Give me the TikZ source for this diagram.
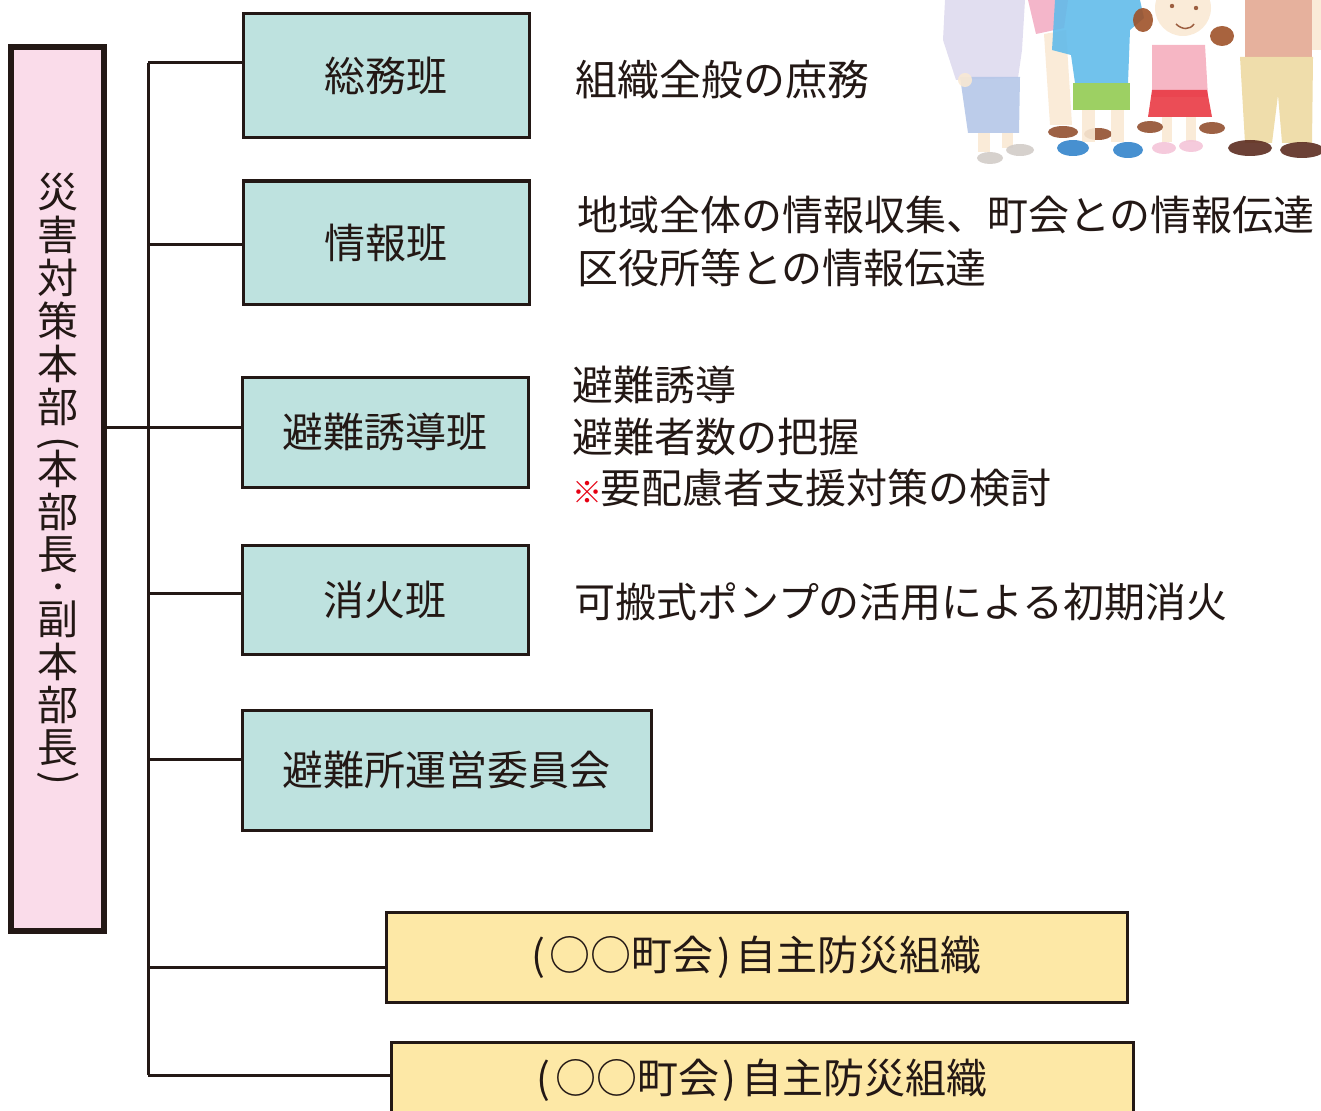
\documentclass[tikz,border=0pt]{standalone}
\usepackage{fontspec}
\setmainfont{Noto Sans CJK JP}
\definecolor{ink}{HTML}{231815}
\definecolor{tealfill}{HTML}{BEE2DF}
\definecolor{pinkfill}{HTML}{FADCEA}
\definecolor{yellowfill}{HTML}{FDE8A6}
\definecolor{noteRed}{HTML}{E60012}
% illustration colours
\definecolor{lavender}{HTML}{DEDAEE}
\definecolor{greyblue}{HTML}{B5C7E8}
\definecolor{skin}{HTML}{F9E9D4}
\definecolor{sandal}{HTML}{D2CCC8}
\definecolor{rosy}{HTML}{F3AEC4}
\definecolor{shirtblue}{HTML}{62BBEA}
\definecolor{shortsgreen}{HTML}{92CB52}
\definecolor{shoeblue}{HTML}{3384CB}
\definecolor{toppink}{HTML}{F5AEBE}
\definecolor{skirtred}{HTML}{E93A44}
\definecolor{shoepink}{HTML}{F4C4D8}
\definecolor{brownshoe}{HTML}{925030}
\definecolor{salmon}{HTML}{E3A892}
\definecolor{khaki}{HTML}{EDD9A2}
\definecolor{darkshoe}{HTML}{5C2C20}
\definecolor{hair}{HTML}{9E5229}
\begin{document}
\begin{tikzpicture}[x=1pt,y=-1pt,
  conn/.style={draw=ink, line width=3pt},
  unitbox/.style={draw=ink, line width=3pt, fill=tealfill, inner sep=0pt,
    text=ink, font=\fontsize{41}{48}\selectfont},
  orgbox/.style={draw=ink, line width=3pt, fill=yellowfill, inner sep=0pt,
    text=ink, font=\fontsize{41}{48}\selectfont},
  duty/.style={anchor=west, inner sep=0pt, align=left, text=ink},
  vchar/.style={inner sep=0pt, text=ink, font=\fontsize{41}{48}\selectfont}
]
\useasboundingbox (0,0) rectangle (1321,1110);
\clip (0,0) rectangle (1321,1110);

% ---- family illustration, top right ----
\begin{scope}[opacity=0.9]
  % grandmother
  \fill[lavender] (945,0) -- (1025,0) -- (1022,50) -- (1018,78) -- (956,80) -- (943,40) -- cycle;
  \fill[greyblue] (960,77) -- (1020,77) -- (1019,133) -- (968,133) -- cycle;
  \fill[skin] (965,80) circle (7);
  \fill[skin] (978,133) rectangle (990,152);
  \fill[skin] (1002,133) rectangle (1013,148);
  \fill[sandal] (990,158) ellipse (13 and 6);
  \fill[sandal] (1020,150) ellipse (14 and 6);
  % figure behind
  \fill[rosy] (1028,0) -- (1068,0) -- (1064,28) -- (1036,34) -- cycle;
  \fill[skin] (1044,34) -- (1066,30) -- (1072,125) -- (1050,125) -- cycle;
  \fill[brownshoe] (1063,132) ellipse (15 and 6);
  \fill[brownshoe] (1098,134) ellipse (14 and 6);
  % boy
  \fill[shirtblue] (1055,0) -- (1140,0) -- (1144,18) -- (1130,30) -- (1128,83) -- (1075,83) -- (1071,55) -- (1052,50) -- cycle;
  \fill[shortsgreen] (1073,83) rectangle (1130,110);
  \fill[skin] (1082,110) rectangle (1095,142);
  \fill[skin] (1111,110) rectangle (1124,142);
  \fill[shoeblue] (1073,148) ellipse (16 and 8);
  \fill[shoeblue] (1128,150) ellipse (15 and 8);
  % girl
  \fill[hair] (1143,20) ellipse (10 and 12);
  \fill[hair] (1222,36) ellipse (12 and 10);
  \fill[skin] (1183,8) circle (28);
  \fill[brownshoe] (1172,6) circle (2.2);
  \fill[brownshoe] (1196,8) circle (2.2);
  \draw[brownshoe, line width=1.5pt] (1176,24) .. controls (1182,30) and (1190,30) .. (1194,24);
  \fill[toppink] (1152,45) -- (1205,45) -- (1208,97) -- (1152,97) -- cycle;
  \fill[skirtred] (1152,90) -- (1207,90) -- (1212,117) -- (1148,117) -- cycle;
  \fill[skin] (1162,117) rectangle (1172,142);
  \fill[skin] (1186,117) rectangle (1196,142);
  \fill[brownshoe] (1150,127) ellipse (13 and 6);
  \fill[brownshoe] (1212,128) ellipse (13 and 6);
  \fill[shoepink] (1164,148) ellipse (12 and 6);
  \fill[shoepink] (1191,146) ellipse (12 and 6);
  % father
  \fill[salmon] (1245,0) rectangle (1312,57);
  \fill[skin] (1312,0) rectangle (1321,50);
  \fill[khaki] (1240,57) -- (1313,57) -- (1312,143) -- (1282,143) -- (1278,95) -- (1272,143) -- (1245,143) -- cycle;
  \fill[darkshoe] (1250,148) ellipse (22 and 8);
  \fill[darkshoe] (1302,150) ellipse (22 and 8);
\end{scope}

% ---- headquarters box, title set vertically ----
\node[draw=ink, line width=6pt, fill=pinkfill, minimum width=93pt, minimum height=884pt,
  inner sep=0pt] (hq) at (57.5,489) {};
\node[vchar] (hq-1) at (58,192) {災};
\node[vchar] (hq-2) at (58,235) {害};
\node[vchar] (hq-3) at (58,278) {対};
\node[vchar] (hq-4) at (58,321) {策};
\node[vchar] (hq-5) at (58,364) {本};
\node[vchar] (hq-6) at (58,407) {部};
\node[vchar, rotate=-90] (hq-7) at (58,443) {(};
\node[vchar] (hq-8) at (58,469) {本};
\node[vchar] (hq-9) at (58,512) {部};
\node[vchar] (hq-10) at (58,555) {長};
\node[vchar, font=\fontsize{28}{28}\selectfont, text height=12pt, text depth=0pt] (hq-11) at (58,591) {・};
\node[vchar] (hq-12) at (58,619) {副};
\node[vchar] (hq-13) at (58,662) {本};
\node[vchar] (hq-14) at (58,705) {部};
\node[vchar] (hq-15) at (58,748) {長};
\node[vchar, rotate=-90] (hq-16) at (58,778) {)};

% ---- teams ----
\node[unitbox, minimum width=286pt, minimum height=124pt] (b1) at (386,76) {総務班};
\node[unitbox, minimum width=286pt, minimum height=123pt] (b2) at (386,242.5) {情報班};
\node[unitbox, minimum width=286pt, minimum height=110pt] (b3) at (385,432) {避難誘導班};
\node[unitbox, minimum width=286pt, minimum height=109pt] (b4) at (385,599.5) {消火班};
\node[unitbox, minimum width=409pt, minimum height=120pt] (b5) at (446.5,770) {避難所運営委員会};
\node[orgbox, minimum width=741pt, minimum height=90pt] (y1) at (756.5,957)
  {(\kern5pt○○町会\kern3pt)\kern5pt自主防災組織};
\node[orgbox, minimum width=742pt, minimum height=76pt] (y2) at (762,1080)
  {(\kern5pt○○町会\kern3pt)\kern5pt自主防災組織};

% ---- duties ----
\node[duty, font=\fontsize{42}{53}\selectfont] (t1) at (575,80) {組織全般の庶務};
\node[duty, font=\fontsize{41}{53}\selectfont] (t2) at (577,241.5)
  {地域全体の情報収集、町会との情報伝達\\区役所等との情報伝達};
\node[duty, font=\fontsize{41}{51.5}\selectfont] (t3) at (572,436.5)
  {避難誘導\\避難者数の把握\\{\color{noteRed}\fontsize{30}{30}\selectfont ※}\kern-2pt 要配慮者支援対策の検討};
\node[duty, font=\fontsize{41}{53}\selectfont] (t4) at (574,602) {可搬式ポンプの活用による初期消火};

% ---- connectors ----
\coordinate (j1) at (148,63);
\coordinate (j2) at (148,244);
\coordinate (j3) at (148,427);
\coordinate (j4) at (148,593);
\coordinate (j5) at (148,759);
\coordinate (j6) at (148,967);
\coordinate (j7) at (148,1075);
\draw[conn] (j1) -- (j7);
\draw[conn] (hq.east |- j3) -- (j3);
\draw[conn] (j1) -- (j1 -| b1.west);
\draw[conn] (j2) -- (j2 -| b2.west);
\draw[conn] (j3) -- (j3 -| b3.west);
\draw[conn] (j4) -- (j4 -| b4.west);
\draw[conn] (j5) -- (j5 -| b5.west);
\draw[conn] (j6) -- (j6 -| y1.west);
\draw[conn] (j7) -- (j7 -| y2.west);
\end{tikzpicture}
\end{document}
